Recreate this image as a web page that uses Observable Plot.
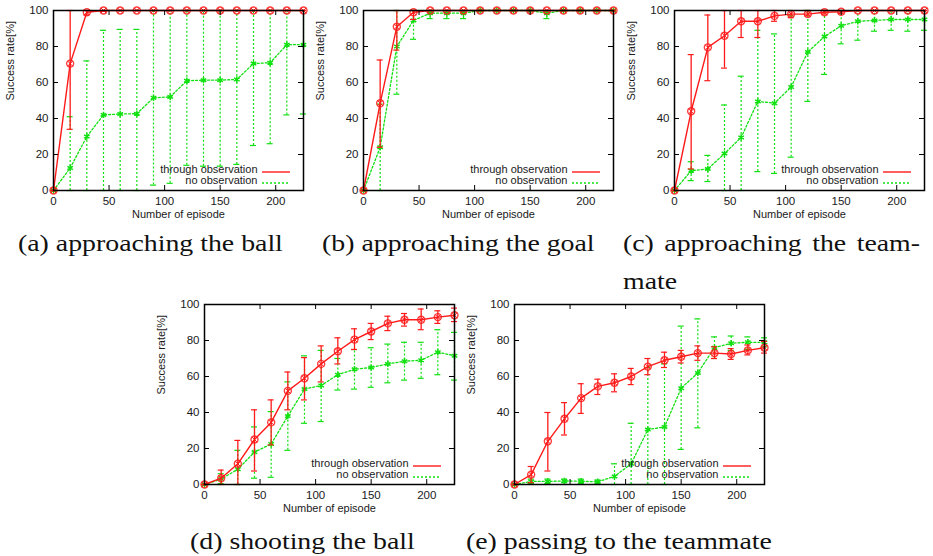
<!DOCTYPE html>
<html><head><meta charset="utf-8">
<script src="https://cdn.jsdelivr.net/npm/d3@7"></script>
<script src="https://cdn.jsdelivr.net/npm/@observablehq/plot@0.6"></script>
<style>
body{margin:0;background:#fff;}
#root{position:relative;width:933px;height:556px;background:#fff;overflow:hidden}
#root svg{position:absolute}
</style></head><body><div id="root"></div>
<script>
const episodes = [0,15,30,45,60,75,90,105,120,135,150,165,180,195,210,225];
const xTicks = [0,50,100,150,200];
const yTicks = [0,20,40,60,80,100];
const seriesNames = ["through observation","no observation"];
const xLabel = "Number of episode";
const yLabel = "Success rate[%]";
const captions = ["(a) approaching the ball","(b) approaching the goal","(c) approaching the team-","mate","(d) shooting the ball","(e) passing to the teammate"];

// (a) approaching the ball
const aObsMean = [0,70.5,99,100,100,100,100,100,100,100,100,100,100,100,100,100];
const aObsLow  = [0,34,97.5,99.5,100,100,100,100,100,100,100,100,100,100,100,100];
const aObsHigh = [0,100,100,100,100,100,100,100,100,100,100,100,100,100,100,100];
const aNoMean  = [0,12.5,30,42,42.5,42.7,51.5,52,61,61.3,61.3,61.7,70.5,71,81,81];
const aNoLow   = [0,0,0,0,0,0,3,4,14,13.5,13.5,14.5,25,26,42,42.5];
const aNoHigh  = [0,41,72,89,89.5,89.5,100,100,100,100,100,100,100,100,100,100];
// (b) approaching the goal
const bObsMean = [0,48.5,91,99,100,100,100,100,100,100,100,100,100,100,100,100];
const bObsLow  = [0,24,78,95,100,100,100,100,100,100,100,100,100,100,100,100];
const bObsHigh = [0,72.5,100,100,100,100,100,100,100,100,100,100,100,100,100,100];
const bNoMean  = [0,24,80,94.5,98.5,98.5,98.5,100,100,100,100,98.5,100,100,100,100];
const bNoLow   = [0,0,53.5,84,95.5,95.5,95.5,100,100,100,100,95.5,100,100,100,100];
const bNoHigh  = [0,48,100,100,100,100,100,100,100,100,100,100,100,100,100,100];
// (c) approaching the teammate
const cObsMean = [0,44,79.5,86,94,94,97,98,98,99,99.3,100,100,100,100,100];
const cObsLow  = [0,12,61,68,85,85,94,96,97,98,98.5,100,100,100,100,100];
const cObsHigh = [0,75.5,97.5,100,100,100,100,100,100,100,100,100,100,100,100,100];
const cNoMean  = [0,11,12,20.5,29.5,49.5,48.5,57.5,77,85.5,91.5,94,94.5,95,95,95];
const cNoLow   = [0,5.5,5,0,0,10.5,9.5,18.5,49.5,64.5,81.5,83.5,88.5,89,88.5,89];
const cNoHigh  = [0,16,19.5,47.5,63.5,89,87,97,100,100,100,100,100,100,100,100];
// (d) shooting the ball
const dObsMean = [0,3.5,11.5,25,34.5,52,59,67,74,80.5,85,89.5,91.5,91.5,93,94];
const dObsLow  = [0,0,0,7.5,22,41.5,47,57,67,75,80.5,85.5,88,86,89.5,90.5];
const dObsHigh = [0,8,24.5,41.5,47,62.5,70.5,77,81.5,86.5,89.5,93.5,95,97.5,96.5,98];
const dNoMean  = [0,3,8.5,18,22.5,38,53,55,61,64,65,67,68.5,69,73.5,71.5];
const dNoLow   = [0,0.5,0,3.5,4,19,34,35,52.5,53,54,56.5,58,59,61,58];
const dNoHigh  = [0,6,19,32,40.5,57,71.5,74.5,70,75,76,78,79,79,86,84.5];
// (e) passing to the teammate
const eObsMean = [0,5.5,24,36.5,48,54.5,56.5,60,65.5,69,71,73,73,72.5,74.5,76];
const eObsLow  = [0,1,7.5,27.5,39.5,50,51.5,55.5,61,65,67.5,69,70,69.5,72,73];
const eObsHigh = [0,10,40,45.5,56,58.5,61.5,64.5,70,73.5,74.5,77,76.5,75.5,77.5,79.5];
const eNoMean  = [0,1.7,1.7,2,1.8,1.5,4.5,11.5,30.5,32,53.5,62,76,78.5,79,79];
const eNoLow   = [0,0.5,0.5,1,0.5,0.5,0,0,0,0,19.5,31.5,70,74.5,75,76.5];
const eNoHigh  = [0,3,3,3,3,2.5,11.5,34,65,67,88,92,82,82.5,82,81.5];

const RED = "#ff1a1a", GREEN = "#11e011";
const W = 310, H = 225, ML = 53, MR = 7, MT = 10, MB = 35;
const IW = W - ML - MR, IH = H - MT - MB;
const FONT = "Liberation Sans, Arial, sans-serif";

function rows(mean, low, high) {
  return episodes.map((x, i) => ({x, m: mean[i], lo: low[i], hi: high[i]}));
}

function panel(left, top, obs, no) {
  const R = rows(...obs), G = rows(...no);
  const txt = {fontFamily: FONT, fontSize: 11, fill: "#1a1a1a"};
  const svg = Plot.plot({
    width: W, height: H, marginLeft: ML, marginRight: MR, marginTop: MT, marginBottom: MB,
    style: {fontFamily: FONT, fontSize: "11px", color: "#1a1a1a", background: "transparent", overflow: "visible"},
    x: {domain: [0, 225]},
    y: {domain: [0, 100]},
    marks: [
      // green series
      Plot.ruleX(G, {x: "x", y1: "lo", y2: "hi", stroke: GREEN, strokeWidth: 1.2, strokeDasharray: "2,2"}),
      Plot.ruleY(G, {x1: "x", x2: "x", y: "lo", insetLeft: -3, insetRight: -3, stroke: GREEN, strokeWidth: 1.2}),
      Plot.ruleY(G, {x1: "x", x2: "x", y: "hi", insetLeft: -3, insetRight: -3, stroke: GREEN, strokeWidth: 1.2}),
      Plot.line(G, {x: "x", y: "m", stroke: GREEN, strokeWidth: 1.3, strokeDasharray: "2,2"}),
      Plot.dot(G, {x: "x", y: "m", symbol: "asterisk", r: 3, stroke: GREEN, strokeWidth: 1.5}),
      // red series
      Plot.ruleX(R, {x: "x", y1: "lo", y2: "hi", stroke: RED, strokeWidth: 1.3}),
      Plot.ruleY(R, {x1: "x", x2: "x", y: "lo", insetLeft: -3, insetRight: -3, stroke: RED, strokeWidth: 1.2}),
      Plot.ruleY(R, {x1: "x", x2: "x", y: "hi", insetLeft: -3, insetRight: -3, stroke: RED, strokeWidth: 1.2}),
      Plot.line(R, {x: "x", y: "m", stroke: RED, strokeWidth: 1.4}),
      Plot.dot(R, {x: "x", y: "m", symbol: "circle", r: 3.5, stroke: RED, strokeWidth: 1.4, strokeOpacity: 0.85}),
      Plot.dot(R, {x: "x", y: "m", symbol: "times", r: 2.6, stroke: RED, strokeWidth: 1}),
      // frame & inward ticks
      Plot.frame({stroke: "#000", strokeWidth: 1.5}),
      Plot.tickX(xTicks, {x: d => d, insetTop: IH - 5, stroke: "#000"}),
      Plot.tickX(xTicks, {x: d => d, insetBottom: IH - 5, stroke: "#000"}),
      Plot.tickY(yTicks, {y: d => d, insetRight: IW - 5, stroke: "#000"}),
      Plot.tickY(yTicks, {y: d => d, insetLeft: IW - 5, stroke: "#000"}),
      Plot.axisX(xTicks, {tickSize: 0, tickPadding: 6, label: null, fill: "#1a1a1a", fontSize: 11.5}),
      Plot.axisY(yTicks, {tickSize: 0, tickPadding: 5, label: null, fill: "#1a1a1a", fontSize: 11.5}),
      Plot.text([xLabel], {frameAnchor: "bottom", dy: 27, ...txt}),
      Plot.text([yLabel], {frameAnchor: "left", rotate: -90, dx: -43, ...txt}),
      Plot.text([seriesNames[0]], {frameAnchor: "bottom-right", textAnchor: "end", dx: -46, dy: -18, ...txt}),
      Plot.text([seriesNames[1]], {frameAnchor: "bottom-right", textAnchor: "end", dx: -46, dy: -7, ...txt})
    ]
  });
  svg.style.left = left + "px";
  svg.style.top = top + "px";
  const s = d3.select(svg);
  const xr = W - MR;
  s.append("line").attr("x1", xr - 41).attr("x2", xr - 13).attr("y1", H - MB - 18).attr("y2", H - MB - 18)
    .attr("stroke", RED).attr("stroke-width", 1.4);
  s.append("line").attr("x1", xr - 41).attr("x2", xr - 13).attr("y1", H - MB - 7).attr("y2", H - MB - 7)
    .attr("stroke", GREEN).attr("stroke-width", 1.3).attr("stroke-dasharray", "2,2");
  document.getElementById("root").appendChild(svg);
}

// captions layer (serif, widened to Computer-Modern-like widths)
const cap = d3.select("#root").append("svg").attr("width", 933).attr("height", 556).style("left", "0px").style("top", "0px");
const CAPFONT = "Liberation Serif, DejaVu Serif, serif", CAPSIZE = 24;
function capText(t) {
  return cap.append("text").attr("font-family", CAPFONT).attr("font-size", CAPSIZE).attr("fill", "#111").text(t);
}
const probe = capText(captions[0]);
const k = 265 / probe.node().getComputedTextLength();
probe.remove();
const capPos = [[18,251],[322,251],[623,251],[623,289],[190,549],[466,549]];
captions.forEach((t, i) => {
  const el = capText(t).attr("transform", `translate(${capPos[i][0]},${capPos[i][1]}) scale(${k},1)`);
  if (i === 2) {
    const w = el.node().getComputedTextLength();
    const extra = (297 / k - w) / 3;
    el.attr("word-spacing", Math.max(0, extra));
  }
});

panel(0, 0, [aObsMean, aObsLow, aObsHigh], [aNoMean, aNoLow, aNoHigh]);
panel(310, 0, [bObsMean, bObsLow, bObsHigh], [bNoMean, bNoLow, bNoHigh]);
panel(621, 0, [cObsMean, cObsLow, cObsHigh], [cNoMean, cNoLow, cNoHigh]);
panel(151, 294, [dObsMean, dObsLow, dObsHigh], [dNoMean, dNoLow, dNoHigh]);
panel(461, 294, [eObsMean, eObsLow, eObsHigh], [eNoMean, eNoLow, eNoHigh]);
</script></body></html>
